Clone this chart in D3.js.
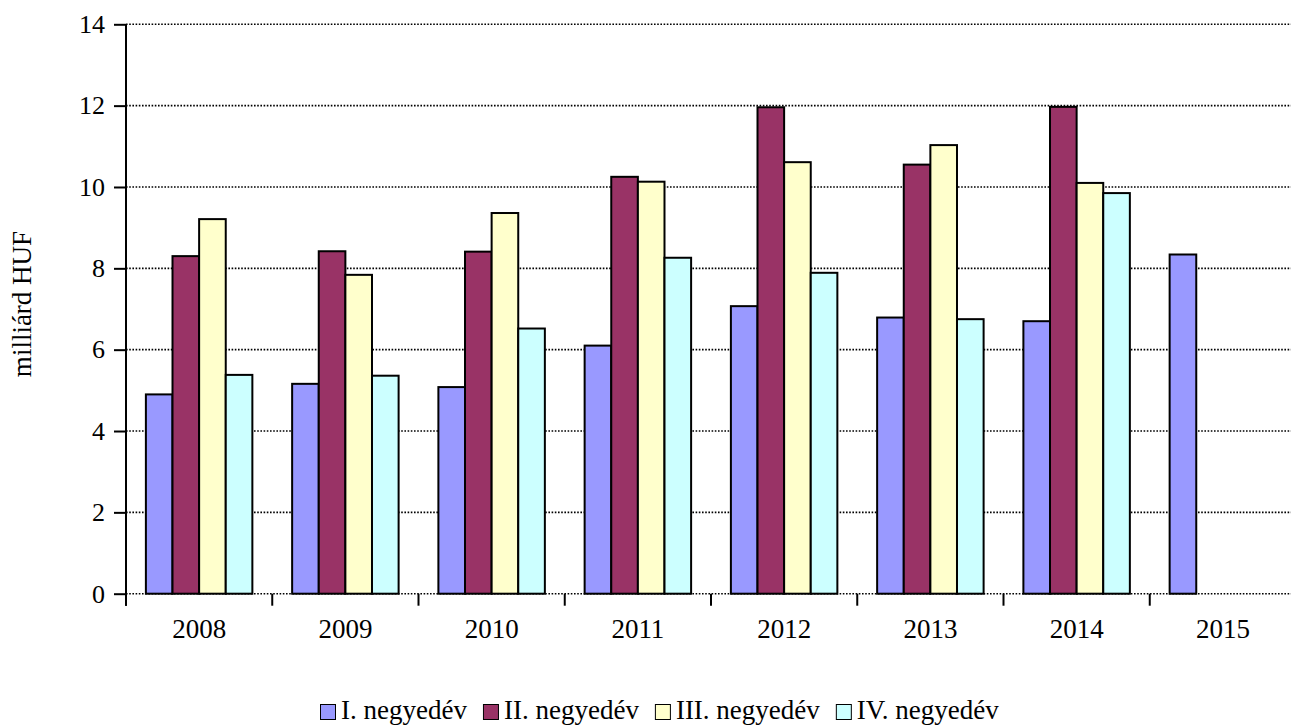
<!DOCTYPE html>
<html><head><meta charset="utf-8">
<script src="https://cdn.jsdelivr.net/npm/d3@7"></script>
<style>body{margin:0;background:#fff;} svg{display:block;}</style>
</head><body>
<svg id="c" width="1291" height="726"></svg>
<script>
const years = ["2008","2009","2010","2011","2012","2013","2014","2015"];
const seriesNames = ["I. negyedév","II. negyedév","III. negyedév","IV. negyedév"];
const colors = ["#9999ff","#993366","#ffffcc","#ccffff"];
const q1 = [4.90,5.16,5.08,6.10,7.07,6.79,6.70,8.34];
const q2 = [8.30,8.42,8.41,10.25,11.96,10.55,11.97,null];
const q3 = [9.21,7.84,9.36,10.13,10.61,11.03,10.10,null];
const q4 = [5.38,5.36,6.52,8.26,7.89,6.75,9.85,null];
const yTicks = [0,2,4,6,8,10,12,14];
const yTitle = "milliárd HUF";
const series = [q1,q2,q3,q4];

const svg = d3.select("#c");
const pLeft = 126, pRight = 1296, pTop = 24.3, pBottom = 593.7;
const x = d3.scaleBand().domain(years).range([pLeft,pRight]).paddingInner(0).paddingOuter(0);
const y = d3.scaleLinear().domain([0,14]).range([pBottom,pTop]);
const groupW = x.bandwidth()*0.728;
const xs = d3.scaleBand().domain(d3.range(4)).range([0,groupW]).padding(0);
const off = (x.bandwidth()-groupW)/2;
const font = "'Liberation Serif','Times New Roman',serif";

// gridlines
svg.append("g").selectAll("line").data(yTicks).join("line")
  .attr("x1",pLeft).attr("x2",pRight)
  .attr("y1",d=>y(d)).attr("y2",d=>y(d))
  .attr("stroke","#000").attr("stroke-width",1.6).attr("stroke-dasharray","1.6,1.6");

// bars
const bars = [];
series.forEach((s,i)=>s.forEach((v,j)=>{ if(v!=null) bars.push({i,j,v}); }));
svg.append("g").selectAll("rect").data(bars).join("rect")
  .attr("x",d=>x(years[d.j])+off+xs(d.i))
  .attr("width",xs.bandwidth())
  .attr("y",d=>y(d.v)).attr("height",d=>pBottom-y(d.v))
  .attr("fill",d=>colors[d.i]).attr("stroke","#000").attr("stroke-width",2);

// y axis
const ya = svg.append("g").attr("transform",`translate(${pLeft},0)`)
  .call(d3.axisLeft(y).tickValues(yTicks).tickSize(12).tickPadding(9).tickFormat(d3.format("d")));
ya.select(".domain").remove();
ya.selectAll(".tick line").attr("stroke","#000").attr("stroke-width",2);
ya.selectAll("text").attr("font-family",font).attr("font-size",26).attr("fill","#000");
svg.append("line").attr("x1",pLeft).attr("x2",pLeft).attr("y1",pTop).attr("y2",pBottom+12)
  .attr("stroke","#000").attr("stroke-width",2);

// x axis ticks
const bounds = years.map(d=>x(d));
svg.append("g").selectAll("line").data(bounds).join("line")
  .attr("x1",d=>d).attr("x2",d=>d).attr("y1",pBottom).attr("y2",pBottom+12)
  .attr("stroke","#000").attr("stroke-width",2);
svg.append("g").selectAll("text").data(years).join("text")
  .attr("x",d=>x(d)+x.bandwidth()/2).attr("y",638)
  .attr("text-anchor","middle").attr("font-family",font).attr("font-size",27).text(d=>d);

// y title
svg.append("text").attr("transform","translate(31,304) rotate(-90)")
  .attr("text-anchor","middle").attr("font-family",font).attr("font-size",27).text(yTitle);

// legend
const lg = svg.append("g");
let lx = 320;
seriesNames.forEach((n,i)=>{
  const g = lg.append("g").attr("transform",`translate(${lx},0)`);
  g.append("rect").attr("x",0.5).attr("y",704.5).attr("width",15).attr("height",15)
    .attr("fill",colors[i]).attr("stroke","#000").attr("stroke-width",1);
  const t = g.append("text").attr("x",21).attr("y",719).attr("font-family",font).attr("font-size",27).text(n);
  lx += 21 + t.node().getComputedTextLength() + 16;
});
</script>
</body></html>
